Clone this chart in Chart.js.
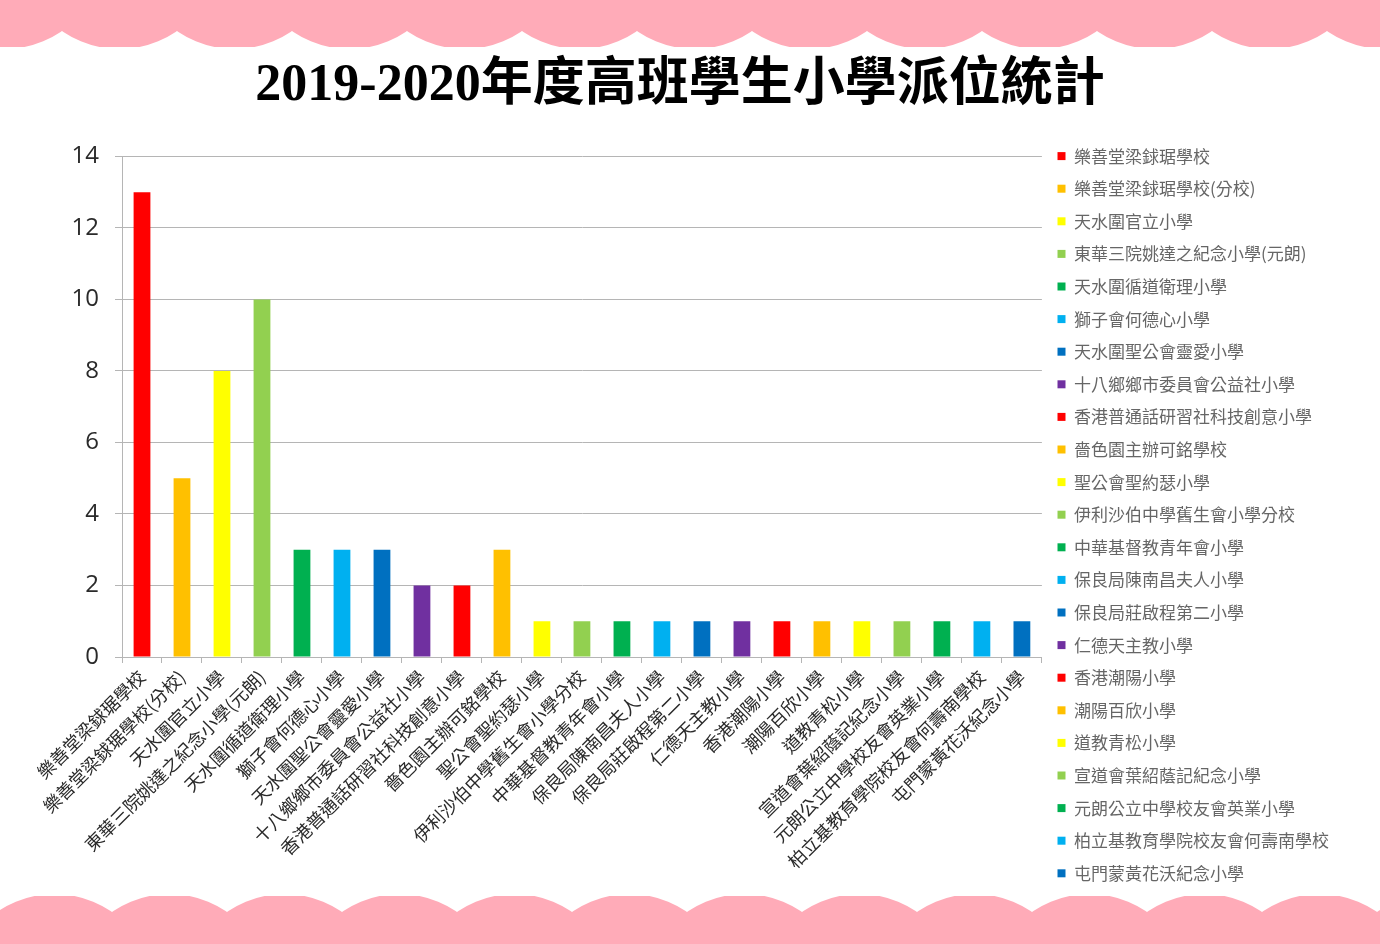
<!DOCTYPE html>
<html>
<head>
<meta charset="utf-8">
<title>2019-2020年度高班學生小學派位統計</title>
<script src="https://cdn.jsdelivr.net/npm/chart.js@4.4.1/dist/chart.umd.min.js"></script>
<style>
  html, body { margin: 0; padding: 0; background: #fff; }
  #wrap { width: 1380px; height: 944px; position: relative; }
</style>
</head>
<body>
<div id="wrap"><canvas id="placementChart"></canvas></div>
<script>
// Chart data
const schools = [
  '樂善堂梁銶琚學校',
  '樂善堂梁銶琚學校(分校)',
  '天水圍官立小學',
  '東華三院姚達之紀念小學(元朗)',
  '天水圍循道衛理小學',
  '獅子會何德心小學',
  '天水圍聖公會靈愛小學',
  '十八鄉鄉市委員會公益社小學',
  '香港普通話研習社科技創意小學',
  '嗇色園主辦可銘學校',
  '聖公會聖約瑟小學',
  '伊利沙伯中學舊生會小學分校',
  '中華基督教青年會小學',
  '保良局陳南昌夫人小學',
  '保良局莊啟程第二小學',
  '仁德天主教小學',
  '香港潮陽小學',
  '潮陽百欣小學',
  '道教青松小學',
  '宣道會葉紹蔭記紀念小學',
  '元朗公立中學校友會英業小學',
  '柏立基教育學院校友會何壽南學校',
  '屯門蒙黃花沃紀念小學'
];
const students = [13, 5, 8, 10, 3, 3, 3, 2, 2, 3, 1, 1, 1, 1, 1, 1, 1, 1, 1, 1, 1, 1, 1];
const palette = ['#FF0000', '#FFC000', '#FFFF00', '#92D050', '#00B050', '#00B0F0', '#0070C0', '#7030A0'];
const yTicks = [0, 2, 4, 6, 8, 10, 12, 14];

const barColors = schools.map((s, i) => palette[i % palette.length]);
const cjkFont = "'Noto Sans CJK TC', 'Noto Sans', sans-serif";
const gridColor = '#b5b5b5';
const textColor = '#2a2a2a';
const pink = '#FFABB8';

// Pink scalloped bands at top and bottom
const scallops = {
  id: 'scallops',
  beforeDraw(chart) {
    const ctx = chart.ctx;
    const w = chart.width;
    const h = chart.height;
    const r = 101;

    ctx.save();
    ctx.fillStyle = pink;
    ctx.beginPath();
    ctx.rect(0, 0, w, 47);
    ctx.clip();
    ctx.beginPath();
    for (let cx = 4.5 - 115; cx < w + 115; cx += 115) {
      ctx.moveTo(cx + r, -52);
      ctx.arc(cx, -52, r, 0, Math.PI * 2);
    }
    ctx.fill();
    ctx.restore();

    ctx.save();
    ctx.fillStyle = pink;
    ctx.beginPath();
    ctx.rect(0, 896, w, h - 896);
    ctx.clip();
    ctx.beginPath();
    for (let cx = 54.5 - 115; cx < w + 115; cx += 115) {
      ctx.moveTo(cx + r, 995);
      ctx.arc(cx, 995, r, 0, Math.PI * 2);
    }
    ctx.fill();
    ctx.restore();
  }
};

const ctx = document.getElementById('placementChart').getContext('2d');
new Chart(ctx, {
  type: 'bar',
  data: {
    labels: schools,
    datasets: [{
      label: '學生人數',
      data: students,
      backgroundColor: barColors,
      borderWidth: 0,
      barPercentage: 0.42,
      categoryPercentage: 1
    }]
  },
  options: {
    responsive: true,
    maintainAspectRatio: false,
    animation: false,
    layout: {
      padding: { left: 21, right: 41, top: 0, bottom: 20 }
    },
    plugins: {
      title: {
        display: true,
        text: '2019-2020年度高班學生小學派位統計',
        color: '#000',
        font: { family: "'Liberation Serif', 'Noto Sans CJK TC', serif", size: 52, weight: 'bold' },
        padding: { top: 55, bottom: 39 }
      },
      legend: {
        position: 'right',
        align: 'start',
        title: {
          display: true,
          text: ' ',
          font: { size: 10 },
          padding: { top: 120, bottom: 0 }
        },
        labels: {
          boxWidth: 8,
          boxHeight: 8,
          padding: 15.6,
          color: textColor,
          font: { family: cjkFont, size: 17 },
          generateLabels: () => schools.map((s, i) => ({
            text: s,
            fillStyle: barColors[i],
            strokeStyle: barColors[i],
            lineWidth: 0,
            hidden: false,
            index: i
          }))
        }
      },
      tooltip: { enabled: false }
    },
    scales: {
      x: {
        afterFit: axis => { axis.height = 267; },
        grid: {
          display: true,
          drawOnChartArea: false,
          drawTicks: true,
          tickLength: 6,
          color: gridColor,
          offset: true
        },
        border: { color: gridColor },
        ticks: {
          autoSkip: false,
          minRotation: 45,
          maxRotation: 45,
          padding: 3,
          color: textColor,
          font: { family: cjkFont, size: 18 }
        }
      },
      y: {
        min: yTicks[0],
        max: yTicks[yTicks.length - 1],
        afterFit: axis => { axis.width = 101; },
        grid: { color: gridColor, tickLength: 7 },
        border: { color: gridColor },
        afterBuildTicks: axis => { axis.ticks = yTicks.map(v => ({ value: v })); },
        ticks: {
          padding: 16,
          color: textColor,
          font: { family: "'Open Sans', sans-serif", size: 24 }
        }
      }
    }
  },
  plugins: [scallops]
});
</script>
</body>
</html>
